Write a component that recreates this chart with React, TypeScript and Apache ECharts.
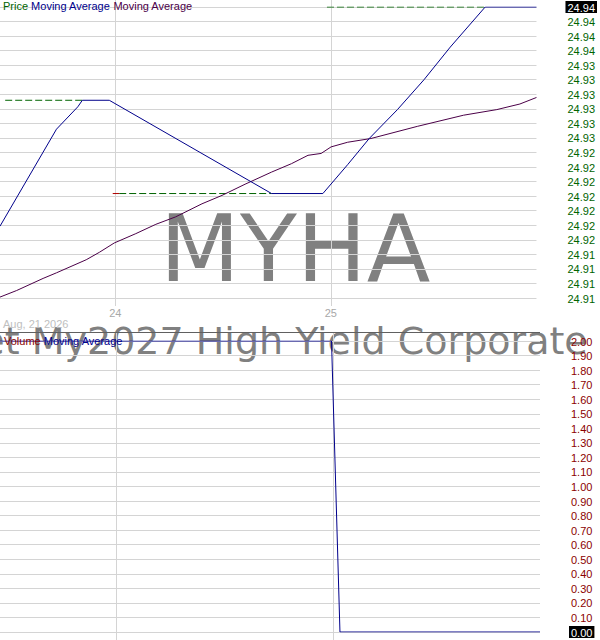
import React, { useEffect, useRef } from "react";
import * as echarts from "echarts";

// ---- axes ----
const dayTicks = [24, 25];
const dayMin = 23.465;
const dayMax = 25.954;
const priceMin = 24.9088;
const priceMax = 24.94;
const priceStep = 0.00156;
const volumeMin = 0;
const volumeMax = 2;
const volumeStep = 0.1;

// ---- blue moving average ----
const fastMaTimes = [23.465, 23.727, 23.826, 23.847, 23.972, 24.725, 24.963, 25.078, 25.178, 25.309, 25.432, 25.554, 25.716, 25.954];
const fastMaValues = [24.9165, 24.9269, 24.9293, 24.93, 24.93, 24.92, 24.92, 24.9231, 24.9259, 24.929, 24.9322, 24.9357, 24.94, 24.94];

// ---- purple moving average ----
const slowMaTimes = [23.465, 23.542, 23.665, 23.727, 23.865, 23.926, 23.995, 24.095, 24.188, 24.28, 24.402, 24.495, 24.602, 24.725, 24.817, 24.894, 24.955, 25.001, 25.078, 25.186, 25.401, 25.616, 25.77, 25.877, 25.954];
const slowMaValues = [24.9089, 24.9096, 24.9109, 24.9115, 24.9129, 24.9137, 24.9147, 24.9157, 24.9167, 24.9175, 24.9189, 24.9198, 24.921, 24.9223, 24.9232, 24.9241, 24.9243, 24.925, 24.9255, 24.9259, 24.9272, 24.9284, 24.929, 24.9296, 24.9303];

// ---- price levels (dashed) ----
const levelStarts = [23.489, 24.018, 24.982];
const levelEnds = [23.847, 24.725, 25.716];
const levelValues = [24.93, 24.92, 24.94];
const redLevelTimes = [23.988, 24.018];
const redLevelValue = 24.92;

// ---- volume moving average ----
const volumeTimes = [23.465, 24.993, 25.032, 25.954];
const volumeValues = [2, 2, 0, 0];

const gridColor = "#d4d4d4";
const FONT = "Liberation Sans";

function pairs(xs: number[], ys: number[]) {
  return xs.map((x, i) => [x, ys[i]]);
}

function dayAxis(gridIndex: number, position: string, tickLen: number, withSplit: boolean, withLabel: boolean) {
  return {
    type: "value",
    gridIndex,
    position,
    min: dayMin,
    max: dayMax,
    axisLine: { show: false },
    axisTick: {
      show: true,
      customValues: dayTicks,
      length: tickLen,
      lineStyle: { color: gridColor, width: 1 },
    },
    axisLabel: withLabel
      ? {
          show: true,
          customValues: dayTicks,
          formatter: (v: number) => String(Math.round(v)),
          color: "#a8a8a8",
          fontSize: 11,
          fontFamily: FONT,
          margin: 9,
        }
      : { show: false },
    splitLine: { show: withSplit, lineStyle: { color: gridColor, width: 1 } },
  };
}

function valueAxis(gridIndex: number, min: number, max: number, step: number, color: string, highlightMax: boolean) {
  return {
    type: "value",
    gridIndex,
    position: "right",
    min,
    max,
    interval: step,
    axisLine: { show: false },
    axisTick: { show: false },
    splitLine: { show: true, lineStyle: { color: gridColor, width: 1 } },
    axisLabel: {
      margin: 29,
      fontSize: 11,
      fontFamily: FONT,
      color,
      formatter: (v: number) => {
        const hl = highlightMax ? Math.abs(v - max) < 1e-7 : Math.abs(v - min) < 1e-7;
        const t = v.toFixed(2);
        return hl ? `{hl|${t}}` : `{n|${t}}`;
      },
      rich: {
        n: { padding: [1, 2, 0, 2], color, fontSize: 11, fontFamily: FONT },
        hl: { padding: [1, 2, 0, 2], color: "#ffffff", backgroundColor: "#000000", fontSize: 11, fontFamily: FONT },
      },
    },
  };
}

function lineSeries(name: string, data: number[][], xi: number, yi: number, color: string, type: string = "solid") {
  return {
    name,
    type: "line",
    xAxisIndex: xi,
    yAxisIndex: yi,
    data,
    showSymbol: false,
    symbol: "none",
    silent: true,
    lineStyle: { color, width: 1, type: type === "dashed" ? [7, 3] : "solid" },
  };
}

export default function App() {
  const ref = useRef<HTMLDivElement>(null);
  useEffect(() => {
    const chart = echarts.init(ref.current!, null, { renderer: "svg" });
    const levelSeries = levelValues.map((v, i) =>
      lineSeries("Price", [[levelStarts[i], v], [levelEnds[i], v]], 0, 0, "#006400", "dashed")
    );
    const option: any = {
      animation: false,
      textStyle: { fontFamily: FONT },
      title: [
        {
          left: 3,
          top: 0,
          padding: 0,
          text: "{g|Price} {b|Moving Average} {p|Moving Average}",
          textStyle: {
            fontSize: 11,
            fontWeight: "normal",
            rich: {
              g: { color: "#006400", fontSize: 11, fontFamily: FONT },
              b: { color: "#00008b", fontSize: 11, fontFamily: FONT },
              p: { color: "#4b0048", fontSize: 11, fontFamily: FONT },
            },
          },
        },
        {
          left: 4,
          top: 335,
          padding: 0,
          text: "{r|Volume} {b|Moving Average}",
          textStyle: {
            fontSize: 11,
            fontWeight: "normal",
            rich: {
              r: { color: "#8b0000", fontSize: 11, fontFamily: FONT },
              b: { color: "#00008b", fontSize: 11, fontFamily: FONT },
            },
          },
        },
      ],
      grid: [
        { left: 0, top: 7, width: 540, height: 291, containLabel: false },
        { left: 0, top: 341, width: 540, height: 291, containLabel: false },
      ],
      xAxis: [
        dayAxis(0, "bottom", 8, true, true),
        dayAxis(0, "top", 7, false, false),
        dayAxis(1, "bottom", 8, true, false),
        dayAxis(1, "top", 9, false, false),
      ],
      yAxis: [
        valueAxis(0, priceMin, priceMax, priceStep, "#006400", true),
        valueAxis(1, volumeMin, volumeMax, volumeStep, "#8b0000", false),
      ],
      series: [
        ...levelSeries,
        lineSeries("Level", pairs(redLevelTimes, [redLevelValue, redLevelValue]), 0, 0, "#b00000"),
        lineSeries("Moving Average", pairs(slowMaTimes, slowMaValues), 0, 0, "#4b0048"),
        lineSeries("Moving Average", pairs(fastMaTimes, fastMaValues), 0, 0, "#00008b"),
        lineSeries("Volume Moving Average", pairs(volumeTimes, volumeValues), 2, 1, "#00008b"),
      ],
      graphic: [
        {
          type: "text",
          x: 295,
          y: 249,
          z: -1,
          silent: true,
          style: {
            text: "MYHA",
            font: '93px "DejaVu Sans"',
            fill: "#808080",
            align: "center",
            verticalAlign: "middle",
          },
        },
        {
          type: "text",
          x: 285,
          y: 341,
          z: -1,
          silent: true,
          style: {
            text: "State Street My2027 High Yield Corporate Bond ETF",
            font: '38px "DejaVu Sans"',
            fill: "#808080",
            align: "center",
            verticalAlign: "middle",
          },
        },
        {
          type: "text",
          x: 3,
          y: 324,
          silent: true,
          style: {
            text: "Aug, 21 2026",
            font: `11px "${FONT}"`,
            fill: "#c0c0c0",
            align: "left",
            verticalAlign: "middle",
          },
        },
        {
          type: "line",
          z: 10,
          silent: true,
          shape: { x1: 0, y1: 332.5, x2: 540, y2: 332.5 },
          style: { stroke: "#606060", lineWidth: 1 },
        },
      ],
    };
    chart.setOption(option);
    return () => chart.dispose();
  }, []);
  return (
    <div
      ref={ref}
      style={{ position: "absolute", left: 0, top: 0, width: 600, height: 640, background: "#ffffff" }}
    />
  );
}
